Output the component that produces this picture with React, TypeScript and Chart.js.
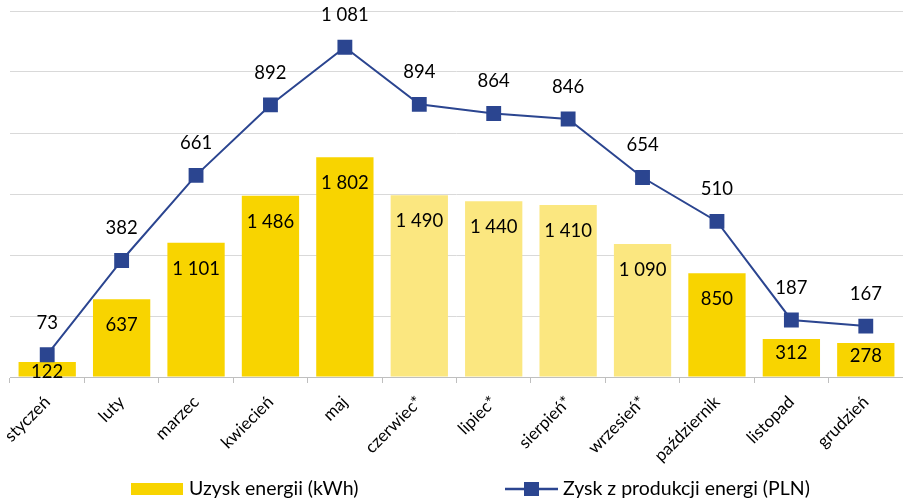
import React, { useEffect, useRef } from "react";
import { Chart, registerables } from "chart.js";

Chart.register(...registerables);

const months = [
  "styczeń", "luty", "marzec", "kwiecień", "maj", "czerwiec*",
  "lipiec*", "sierpień*", "wrzesień*", "październik", "listopad", "grudzień",
];
const energyKWh = [122, 637, 1101, 1486, 1802, 1490, 1440, 1410, 1090, 850, 312, 278];
const profitPLN = [73, 382, 661, 892, 1081, 894, 864, 846, 654, 510, 187, 167];
const estimated = [false, false, false, false, false, true, true, true, true, false, false, false];
const energyLabel = "Uzysk energii (kWh)";
const profitLabel = "Zysk z produkcji energi (PLN)";

const BAR = "#F8D400";
const BAR_LIGHT = "#FBE780";
const LINE = "#2B4590";
const FONT = "Lato, 'Open Sans', sans-serif";

const fmt = (v: number) => String(v).replace(/\B(?=(\d{3})+(?!\d))/g, " ");

const labelsPlugin = {
  id: "valueLabels",
  afterDatasetsDraw(chart: any) {
    const ctx = chart.ctx;
    ctx.save();
    ctx.font = `18.5px ${FONT}`;
    ctx.fillStyle = "#000";
    ctx.textAlign = "center";
    ctx.textBaseline = "middle";
    const barMeta = chart.getDatasetMeta(0);
    barMeta.data.forEach((el: any, i: number) => {
      const h = el.base - el.y;
      const off = Math.max(10, Math.min(26, h * 0.38));
      ctx.fillText(fmt(energyKWh[i]), el.x, el.y + off);
    });
    const lineMeta = chart.getDatasetMeta(1);
    lineMeta.data.forEach((el: any, i: number) => {
      ctx.fillText(fmt(profitPLN[i]), el.x, el.y - 32);
    });
    ctx.restore();
  },
  afterDraw(chart: any) {
    const ctx = chart.ctx;
    ctx.save();
    const y = 489;
    ctx.fillStyle = BAR;
    ctx.fillRect(131, 483, 52, 12);
    ctx.font = `19.5px ${FONT}`;
    ctx.fillStyle = "#000";
    ctx.textBaseline = "middle";
    ctx.textAlign = "left";
    ctx.fillText(energyLabel, 189, y);
    ctx.strokeStyle = LINE;
    ctx.lineWidth = 2.5;
    ctx.beginPath();
    ctx.moveTo(505, y);
    ctx.lineTo(558, y);
    ctx.stroke();
    ctx.fillStyle = LINE;
    ctx.fillRect(524, y - 7, 15, 14);
    ctx.fillStyle = "#000";
    ctx.fillText(profitLabel, 563, y);
    ctx.restore();
  },
};

export default function App() {
  const ref = useRef<HTMLCanvasElement>(null);
  useEffect(() => {
    const chart = new Chart(ref.current as HTMLCanvasElement, {
      type: "bar",
      data: {
        labels: months,
        datasets: [
          {
            type: "bar",
            label: energyLabel,
            data: energyKWh,
            backgroundColor: estimated.map((e) => (e ? BAR_LIGHT : BAR)),
            barPercentage: 0.77,
            categoryPercentage: 1,
            yAxisID: "y",
            order: 2,
          },
          {
            type: "line",
            label: profitLabel,
            data: profitPLN,
            borderColor: LINE,
            backgroundColor: LINE,
            borderWidth: 2,
            pointStyle: "rect",
            pointRadius: 10.5,
            pointBorderWidth: 0,
            pointBackgroundColor: LINE,
            yAxisID: "y1",
            order: 1,
          } as any,
        ],
      },
      options: {
        animation: false,
        responsive: false,
        maintainAspectRatio: false,
        layout: { autoPadding: false, padding: { top: 11, left: 10, right: 0, bottom: 0 } },
        plugins: { legend: { display: false }, tooltip: { enabled: false } },
        scales: {
          x: {
            afterFit: (s: any) => {
              s.height = 122;
              s.paddingLeft = 0;
              s.paddingRight = 0;
            },
            grid: { drawOnChartArea: false, drawTicks: true, tickLength: 6, color: "#BFBFBF", offset: true },
            border: { color: "#BFBFBF", width: 1 },
            ticks: {
              autoSkip: false,
              maxRotation: 45,
              minRotation: 45,
              color: "#000",
              font: { family: FONT, size: 17 },
              padding: 9,
            },
          },
          y: {
            min: 0,
            max: 3000,
            afterFit: (s: any) => { s.width = 0; },
            ticks: { display: false, stepSize: 500 },
            grid: { color: "#D9D9D9", lineWidth: 1, drawTicks: false },
            border: { display: false },
          },
          y1: {
            min: 0,
            max: 1200,
            display: false,
          },
        },
      },
      plugins: [labelsPlugin],
    });
    return () => chart.destroy();
  }, []);
  return (
    <div style={{ position: "fixed", left: 0, top: 0, width: 903, height: 499, background: "#fff" }}>
      <canvas ref={ref} width={903} height={499} style={{ width: 903, height: 499 }} />
    </div>
  );
}
